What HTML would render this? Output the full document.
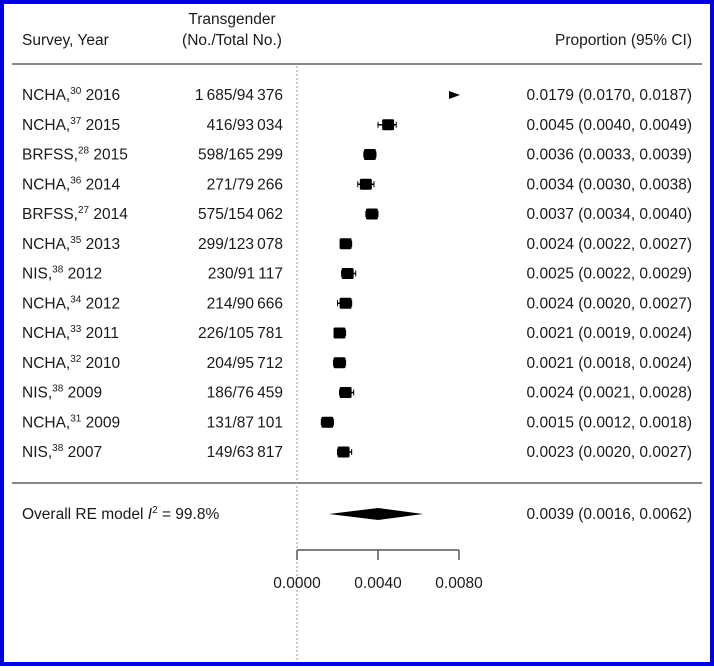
<!DOCTYPE html>
<html><head><meta charset="utf-8"><style>
body{margin:0;width:714px;height:666px;background:#fff;overflow:hidden}
</style></head><body>
<svg width="714" height="666" xmlns="http://www.w3.org/2000/svg" font-family="Liberation Sans, sans-serif" font-size="15.5" fill="#1a1a1a">
<rect x="2" y="2" width="710" height="662" fill="#fff" stroke="#0000e0" stroke-width="4"/>
<text x="22" y="45">Survey, Year</text>
<text x="232" y="24" text-anchor="middle">Transgender</text>
<text x="232" y="45" text-anchor="middle">(No./Total No.)</text>
<text x="692" y="45" text-anchor="end">Proportion (95% CI)</text>
<line x1="12" y1="64" x2="702" y2="64" stroke="#888" stroke-width="2"/>
<line x1="12" y1="483" x2="702" y2="483" stroke="#888" stroke-width="2"/>
<line x1="297" y1="66" x2="297" y2="662" stroke="#999" stroke-dasharray="2,2"/>
<g id="rows"></g>
<polygon points="329,514 378,508 423,514 378,520" fill="#000"/>
<text x="22" y="519">Overall RE model <tspan font-style="italic">I</tspan><tspan font-size="10" dy="-6">2</tspan><tspan dy="6"> = 99.8%</tspan></text>
<text x="692" y="519" text-anchor="end">0.0039 (0.0016, 0.0062)</text>
<g stroke="#555" stroke-width="1.5" fill="none">
<line x1="297" y1="550" x2="459" y2="550"/>
<line x1="297" y1="550" x2="297" y2="560"/>
<line x1="378" y1="550" x2="378" y2="560"/>
<line x1="459" y1="550" x2="459" y2="560"/>
</g>
<text x="297" y="588" text-anchor="middle">0.0000</text>
<text x="378" y="588" text-anchor="middle">0.0040</text>
<text x="459" y="588" text-anchor="middle">0.0080</text>
</svg>
<script>
const d=[["NCHA,","30","2016","1\u2009685/94\u2009376",.0179,.0170,.0187],
["NCHA,","37","2015","416/93\u2009034",.0045,.0040,.0049],
["BRFSS,","28","2015","598/165\u2009299",.0036,.0033,.0039],
["NCHA,","36","2014","271/79\u2009266",.0034,.0030,.0038],
["BRFSS,","27","2014","575/154\u2009062",.0037,.0034,.0040],
["NCHA,","35","2013","299/123\u2009078",.0024,.0022,.0027],
["NIS,","38","2012","230/91\u2009117",.0025,.0022,.0029],
["NCHA,","34","2012","214/90\u2009666",.0024,.0020,.0027],
["NCHA,","33","2011","226/105\u2009781",.0021,.0019,.0024],
["NCHA,","32","2010","204/95\u2009712",.0021,.0018,.0024],
["NIS,","38","2009","186/76\u2009459",.0024,.0021,.0028],
["NCHA,","31","2009","131/87\u2009101",.0015,.0012,.0018],
["NIS,","38","2007","149/63\u2009817",.0023,.0020,.0027]];
const X=v=>297+v*20250;let s="";
d.forEach((r,i)=>{const y=95+i*29.75;
s+=`<text x="22" y="${y+5}">${r[0]}<tspan font-size="10" dy="-6">${r[1]}</tspan><tspan dy="6"> ${r[2]}</tspan></text>`;
s+=`<text x="283" y="${y+5}" text-anchor="end">${r[3]}</text>`;
s+=`<text x="692" y="${y+5}" text-anchor="end">${r[4].toFixed(4)} (${r[5].toFixed(4)}, ${r[6].toFixed(4)})</text>`;
if(i==0){s+=`<polygon points="449,91 460,95 449,99" fill="#000"/>`;}
else{const x=X(r[4]);s+=`<line x1="${X(r[5])}" y1="${y}" x2="${X(r[6])}" y2="${y}" stroke="#000" stroke-width="1.5"/><line x1="${X(r[5])}" y1="${y-3}" x2="${X(r[5])}" y2="${y+3}" stroke="#000"/><line x1="${X(r[6])}" y1="${y-3}" x2="${X(r[6])}" y2="${y+3}" stroke="#000"/><rect x="${x-6}" y="${y-5.5}" width="12" height="11" rx="1.5" fill="#000"/>`;}
});
document.getElementById("rows").innerHTML=s;
</script>
</body></html>
